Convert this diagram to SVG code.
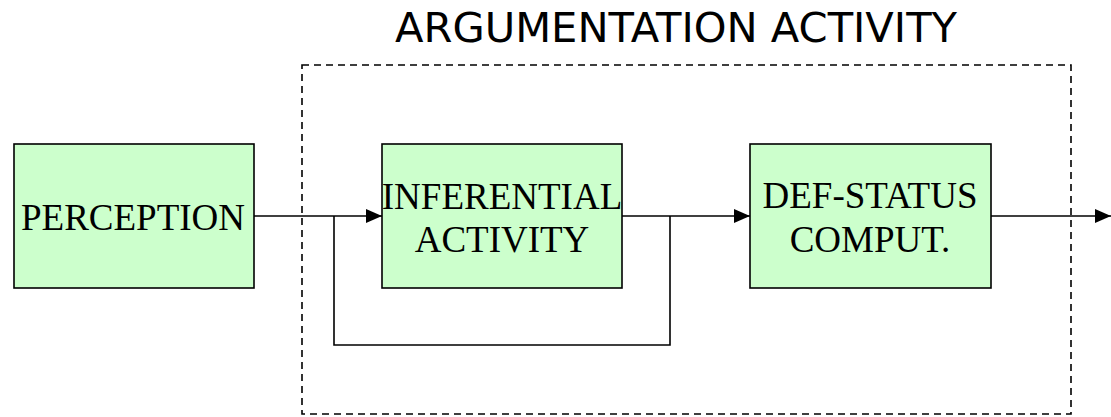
<svg xmlns="http://www.w3.org/2000/svg" width="1111" height="417" viewBox="0 0 1111 417">
  <defs>
    <marker id="arrow" viewBox="0 0 16 14" refX="16" refY="7" markerWidth="16" markerHeight="14" markerUnits="userSpaceOnUse" orient="auto">
      <path d="M0,0 L16,7 L0,14 Z" fill="#000"/>
    </marker>
    <style>
      .box { fill: #CCFFCC; stroke: #000; stroke-width: 1.6; }
      .label { font-family: "Liberation Serif", "Times New Roman", serif; font-size: 37px; fill: #000; text-anchor: middle; }
      .wire { fill: none; stroke: #000; stroke-width: 1.6; }
      .frame { fill: none; stroke: #000; stroke-width: 1.6; stroke-dasharray: 7 5; }
      .title { font-family: "DejaVu Sans", Verdana, sans-serif; font-size: 41px; fill: #000; text-anchor: middle; }
    </style>
  </defs>
  <rect width="1111" height="417" fill="#fff"/>

  <!-- dashed boundary of the argumentation activity -->
  <g id="argumentation-activity">
    <rect class="frame" x="302" y="65" width="769" height="349"/>
    <text class="title" x="676" y="42" textLength="562" lengthAdjust="spacingAndGlyphs">ARGUMENTATION ACTIVITY</text>
  </g>

  <g id="perception">
    <rect class="box" x="14" y="144" width="240" height="144"/>
    <text class="label" x="133" y="230">PERCEPTION</text>
  </g>

  <g id="inferential-activity">
    <rect class="box" x="382" y="144" width="240" height="144"/>
    <text class="label" x="502" y="209">INFERENTIAL</text>
    <text class="label" x="502" y="252">ACTIVITY</text>
  </g>

  <g id="def-status">
    <rect class="box" x="750" y="144" width="241" height="144"/>
    <text class="label" x="870" y="208">DEF-STATUS</text>
    <text class="label" x="870" y="252">COMPUT.</text>
  </g>

  <g id="connectors">
    <line class="wire" x1="254" y1="216" x2="382" y2="216" marker-end="url(#arrow)"/>
    <polyline class="wire" points="670,216 670,345 334,345 334,216"/>
    <line class="wire" x1="622" y1="216" x2="750" y2="216" marker-end="url(#arrow)"/>
    <line class="wire" x1="991" y1="216" x2="1111" y2="216" marker-end="url(#arrow)"/>
  </g>
</svg>
